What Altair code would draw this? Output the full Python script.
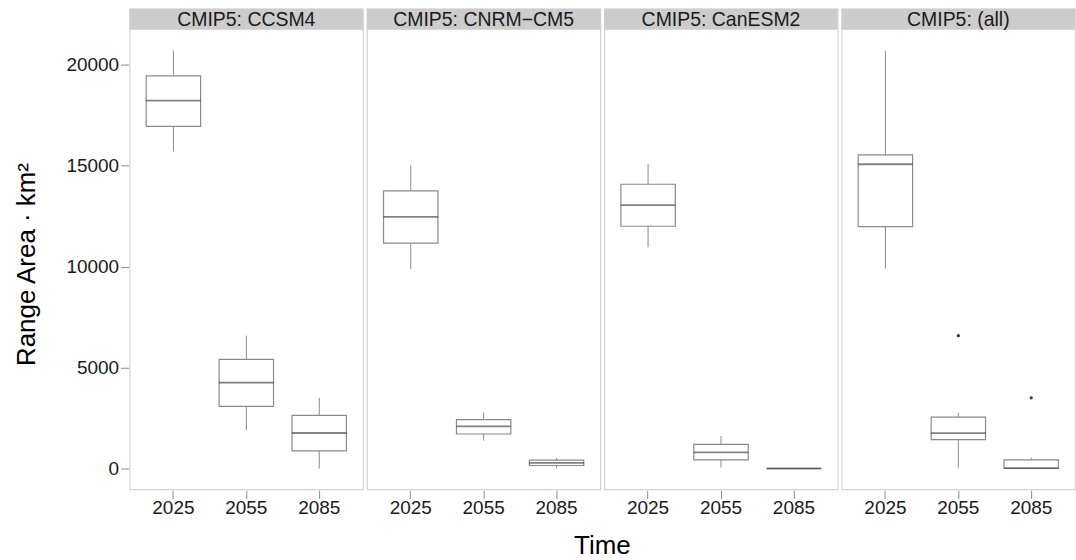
import altair as alt
import pandas as pd

# Climate models (facet panels) and projection periods
models = ["CMIP5: CCSM4", "CMIP5: CNRM−CM5", "CMIP5: CanESM2", "CMIP5: (all)"]
periods = ["2025", "2055", "2085"]

# Box-plot summaries of range area (km²), model by model, periods in order
whisker_low = [15700, 1910, 0,
               9880, 1380, 30,
               10960, 50, 0,
               9910, 30, 0]
quart_low = [16950, 3080, 870,
             11160, 1710, 150,
             12000, 430, 0,
             11980, 1430, 0]
median = [18220, 4250, 1760,
          12460, 2090, 280,
          13050, 800, 0,
          15070, 1750, 15]
quart_high = [19450, 5410, 2630,
              13750, 2420, 420,
              14080, 1200, 0,
              15530, 2550, 430]
whisker_high = [20700, 6580, 3500,
                15030, 2770, 520,
                15090, 1610, 0,
                20690, 2750, 540]
outlier = [None, None, None,
           None, None, None,
           None, None, None,
           None, 6580, 3500]

rows = []
i = 0
for m in models:
    for p in periods:
        rows.append({
            "model": m, "time": p,
            "lo": whisker_low[i], "q1": quart_low[i], "med": median[i],
            "q3": quart_high[i], "hi": whisker_high[i], "out": outlier[i],
        })
        i += 1
df = pd.DataFrame(rows)

FONT = "Liberation Sans"
BOX_STROKE = "#8a8a8a"
PANEL_W = 234
STRIP_H = 21

# y domain: data range with 5% expansion, plus headroom for the strip
y_scale = alt.Scale(domain=[-1035, 22772], nice=False, zero=False)
x_scale = alt.Scale(type="band", paddingInner=0.254, paddingOuter=0.227)

x_enc = alt.X("time:N", sort=periods, scale=x_scale,
              axis=alt.Axis(title=None, labelAngle=0, labelFontSize=19,
                            labelColor="#1a1a1a", labelFont=FONT, labelPadding=0,
                            tickColor="#8a8a8a", tickSize=8, domain=False,
                            grid=False))

y_axis = alt.Axis(values=[0, 5000, 10000, 15000, 20000], format="d",
                  grid=False, domain=False,
                  tickColor="#8a8a8a", tickSize=8, labelFontSize=19,
                  labelFont=FONT, labelColor="#1a1a1a", labelPadding=2,
                  title="Range Area · km²", titleFontSize=26, titleFont=FONT,
                  titleFontWeight="normal", titleColor="#000000",
                  titlePadding=27, titleY=256)

base = alt.Chart().encode(x=x_enc)

strip = alt.Chart().mark_rect(color="#cccccc").encode(
    x=alt.value(0), x2=alt.value("width"),
    y=alt.value(0), y2=alt.value(STRIP_H),
).transform_filter(alt.datum.time == "2025")

whisker = base.mark_rule(color=BOX_STROKE, strokeWidth=1).encode(
    y=alt.Y("lo:Q", scale=y_scale, axis=y_axis),
    y2="hi:Q",
)

box = base.mark_bar(fill="white", stroke=BOX_STROKE, strokeWidth=1.2).encode(
    y=alt.Y("q1:Q", scale=y_scale),
    y2="q3:Q",
)

mid = base.mark_tick(color="#4d4d4d", size=55, thickness=1.8).encode(
    y=alt.Y("med:Q", scale=y_scale),
)

outs = base.mark_point(filled=True, size=10, color="#333333", opacity=1).encode(
    y=alt.Y("out:Q", scale=y_scale),
)

strip_text = alt.Chart().mark_text(
    font=FONT, fontSize=19.5, color="#1a1a1a", baseline="middle", align="center"
).encode(
    x=alt.value(PANEL_W / 2), y=alt.value(11.5), text="model:N",
).transform_filter(alt.datum.time == "2025")

panel = alt.layer(strip, whisker, box, mid, outs, strip_text, data=df).properties(
    width=PANEL_W, height=482
)

chart = panel.facet(
    column=alt.Column("model:N", sort=models,
                      header=alt.Header(labels=False, title="Time",
                                        titleOrient="bottom", titleFontSize=26,
                                        titleFont=FONT, titleFontWeight="normal",
                                        titleColor="#000000", titlePadding=6)),
    spacing=2,
).properties(
    padding={"left": 13, "top": 7, "right": 0, "bottom": 0},
    background="white",
).configure_view(
    stroke="#d4d4d4", strokeWidth=1.2
)

chart.save("out.html", embed_options={"renderer": "svg", "actions": False})
